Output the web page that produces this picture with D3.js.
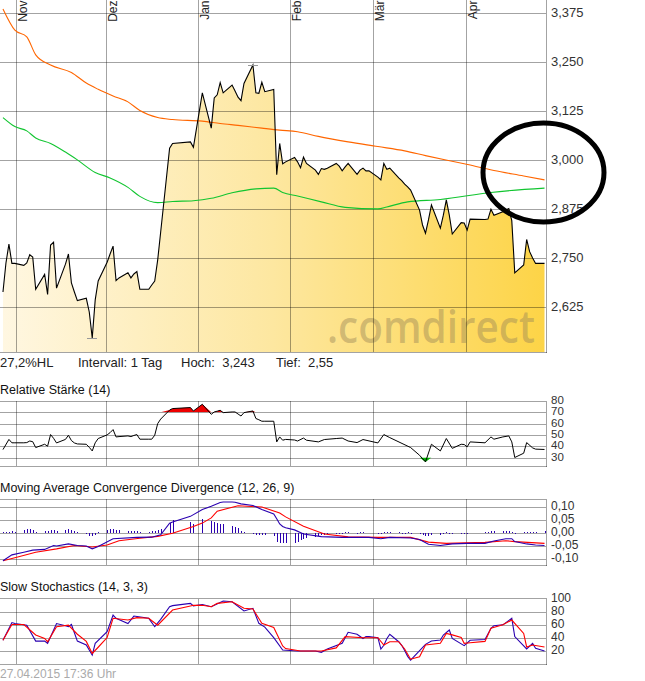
<!DOCTYPE html>
<html><head><meta charset="utf-8">
<script src="https://cdn.jsdelivr.net/npm/d3@7"></script>
<style>body{margin:0;background:#fff}svg{display:block}text{font-family:"Liberation Sans",Arial,sans-serif}</style>
</head><body>
<svg id="c" width="645" height="681"></svg>
<script>
// ---------- DATA ----------
const monthTicks = ["2014-11-01","2014-12-01","2015-01-01","2015-02-01","2015-03-01","2015-04-01"];
const monthLabels = ["Nov","Dez","Jan","Feb","Mär","Apr"];
const priceTicks = [3.375,3.25,3.125,3.0,2.875,2.75,2.625];
const rsiTicks = [80,70,60,50,40,30];
const macdTicks = [0.10,0.05,0,-0.05,-0.10];
const macdTickLabels = ["0,10","0,05","0,00","-0,05","-0,10"];
const stochTicks = [100,80,60,40,20];
const infoTexts = ["27,2%HL","Intervall: 1 Tag","Hoch:  3,243","Tief:  2,55"];
const panelTitles = ["Relative Stärke (14)","Moving Average Convergence Divergence (12, 26, 9)","Slow Stochastics (14, 3, 3)"];
const footerText = "27.04.2015 17:36 Uhr";

const tradeDates = ["2014-10-27","2014-10-28","2014-10-29","2014-10-30","2014-10-31",
"2014-11-03","2014-11-04","2014-11-05","2014-11-06","2014-11-07","2014-11-10","2014-11-11","2014-11-12","2014-11-13","2014-11-14",
"2014-11-17","2014-11-18","2014-11-19","2014-11-20","2014-11-21","2014-11-24","2014-11-25","2014-11-26","2014-11-27","2014-11-28",
"2014-12-01","2014-12-02","2014-12-03","2014-12-04","2014-12-05","2014-12-08","2014-12-09","2014-12-10","2014-12-11","2014-12-12",
"2014-12-15","2014-12-16","2014-12-17","2014-12-18","2014-12-19","2014-12-22","2014-12-23","2014-12-29","2014-12-30",
"2015-01-02","2015-01-05","2015-01-06","2015-01-07","2015-01-08","2015-01-09","2015-01-12","2015-01-13","2015-01-14","2015-01-15","2015-01-16",
"2015-01-19","2015-01-20","2015-01-21","2015-01-22","2015-01-23","2015-01-26","2015-01-27","2015-01-28","2015-01-29","2015-01-30",
"2015-02-02","2015-02-03","2015-02-04","2015-02-05","2015-02-06","2015-02-09","2015-02-10","2015-02-11","2015-02-12","2015-02-13",
"2015-02-16","2015-02-17","2015-02-18","2015-02-19","2015-02-20","2015-02-23","2015-02-24","2015-02-25","2015-02-26","2015-02-27",
"2015-03-02","2015-03-03","2015-03-04","2015-03-05","2015-03-06","2015-03-09","2015-03-10","2015-03-11","2015-03-12","2015-03-13",
"2015-03-16","2015-03-17","2015-03-18","2015-03-19","2015-03-20","2015-03-23","2015-03-24","2015-03-25","2015-03-26","2015-03-27",
"2015-03-30","2015-03-31","2015-04-01","2015-04-02","2015-04-07","2015-04-08","2015-04-09","2015-04-10",
"2015-04-13","2015-04-14","2015-04-15","2015-04-16","2015-04-17","2015-04-20","2015-04-21","2015-04-22","2015-04-23","2015-04-24","2015-04-27"];

const priceValues = [2.664,2.738,2.786,2.737,2.737,
2.732,2.738,2.759,2.753,2.671,2.709,2.658,2.784,2.791,2.674,
2.735,2.761,2.687,2.664,2.642,2.648,2.613,2.547,2.644,2.692,
2.740,2.761,2.781,2.693,2.700,2.713,2.700,2.710,2.716,2.671,
2.671,2.682,2.692,2.746,2.817,3.031,3.043,3.047,3.033,
3.172,3.082,3.159,3.167,3.198,3.172,3.192,3.177,3.161,3.152,3.196,
3.243,3.172,3.171,3.199,3.175,3.181,2.963,3.043,2.991,2.996,
3.007,2.996,2.981,3.008,2.992,2.975,2.964,2.979,2.977,2.980,
2.992,2.985,2.973,2.983,2.992,2.964,2.975,2.980,2.973,2.973,
2.957,2.950,2.992,2.977,2.980,2.955,2.948,2.939,2.932,2.924,
2.873,2.835,2.814,2.848,2.886,2.827,2.860,2.899,2.860,2.812,
2.841,2.840,2.822,2.850,2.849,2.850,2.875,2.860,
2.869,2.873,2.877,2.846,2.713,2.733,2.798,2.767,2.751,2.737,2.737];

const maLongDates = ["2014-10-27","2014-10-31","2014-11-04","2014-11-07","2014-11-12","2014-11-19","2014-11-24","2014-11-28","2014-12-03","2014-12-08","2014-12-12","2014-12-18","2014-12-23","2015-01-02","2015-01-08","2015-01-14","2015-01-22","2015-01-28","2015-02-03","2015-02-10","2015-02-20","2015-03-02","2015-03-11","2015-03-18","2015-03-31","2015-04-10","2015-04-20","2015-04-27"];
const maLongValues = [3.386,3.332,3.315,3.269,3.243,3.224,3.197,3.181,3.164,3.149,3.127,3.109,3.104,3.100,3.094,3.089,3.082,3.077,3.073,3.061,3.047,3.035,3.024,3.012,2.991,2.974,2.960,2.950];

const maShortDates = ["2014-10-27","2014-10-31","2014-11-04","2014-11-07","2014-11-12","2014-11-17","2014-11-21","2014-11-27","2014-12-02","2014-12-08","2014-12-12","2014-12-18","2014-12-23","2014-12-30","2015-01-05","2015-01-12","2015-01-20","2015-01-26","2015-01-29","2015-02-03","2015-02-11","2015-02-19","2015-03-02","2015-03-05","2015-03-12","2015-03-23","2015-04-09","2015-04-27"];
const maShortValues = [3.109,3.086,3.075,3.057,3.043,3.021,3.001,2.969,2.955,2.931,2.908,2.892,2.895,2.897,2.903,2.917,2.927,2.929,2.918,2.909,2.894,2.880,2.876,2.881,2.894,2.900,2.918,2.929];

const rsiDates = ["2014-10-27","2014-10-29","2014-10-30","2014-10-31","2014-11-03","2014-11-04","2014-11-05","2014-11-06","2014-11-07","2014-11-10","2014-11-11","2014-11-12","2014-11-13","2014-11-14","2014-11-17","2014-11-18","2014-11-19","2014-11-20","2014-11-21","2014-11-24","2014-11-25","2014-11-26","2014-11-27","2014-11-28",
"2014-12-01","2014-12-02","2014-12-03","2014-12-04","2014-12-05","2014-12-08","2014-12-09","2014-12-10","2014-12-11","2014-12-12","2014-12-15","2014-12-16","2014-12-17","2014-12-18","2014-12-19","2014-12-22","2014-12-23","2014-12-29","2014-12-30",
"2015-01-02","2015-01-05","2015-01-06","2015-01-07","2015-01-08","2015-01-09","2015-01-12","2015-01-13","2015-01-14","2015-01-15","2015-01-16","2015-01-19","2015-01-20","2015-01-21","2015-01-22","2015-01-23","2015-01-26","2015-01-27","2015-01-28","2015-01-29","2015-01-30",
"2015-02-02","2015-02-03","2015-02-05","2015-02-06","2015-02-10","2015-02-12","2015-02-16","2015-02-18","2015-02-20","2015-02-23","2015-02-25",
"2015-03-02","2015-03-04","2015-03-06","2015-03-13","2015-03-16","2015-03-18","2015-03-20","2015-03-23","2015-03-25","2015-03-27","2015-03-30","2015-03-31",
"2015-04-01","2015-04-02","2015-04-07","2015-04-09","2015-04-10","2015-04-13","2015-04-15","2015-04-16","2015-04-17","2015-04-20","2015-04-21","2015-04-23","2015-04-24","2015-04-27"];
const rsiValues = [37,46,43,43,43,43.2,44.6,44,38.8,41.7,40,50.3,47,42.9,46,49.7,45,42.9,42,41.7,39,35.8,43,46.8,
50,52,54.7,48.2,48.5,49.1,48.5,49.5,50.3,46.2,46.2,46.2,49.7,60,64,72,73.3,74.2,71.2,
77.1,68.2,70.3,71,71.8,69.7,70.3,70.3,68.5,66.7,69.7,71.2,64.5,63.4,62.1,62.1,62.1,43.8,48.2,45.3,46,
45.5,44.6,47.2,45.3,43.8,45.9,46.8,47.2,44.6,43.2,45.9,
42.9,50.3,47.6,38.8,32,26.1,41.7,35.8,46.8,38.1,41.7,41.5,
39.4,43.8,43,48.2,46.2,48.2,49.1,43.8,30,33.8,43.2,38.5,37.4,37.1];

const macdDates = ["2014-10-27","2014-10-30","2014-11-03","2014-11-06","2014-11-10","2014-11-13","2014-11-14","2014-11-18","2014-11-21","2014-11-24","2014-11-26","2014-11-28","2014-12-03","2014-12-11","2014-12-16","2014-12-19","2014-12-22","2014-12-23","2014-12-29",
"2015-01-02","2015-01-05","2015-01-08","2015-01-09","2015-01-12","2015-01-13","2015-01-15","2015-01-19","2015-01-22","2015-01-26","2015-01-27","2015-01-28","2015-01-29","2015-01-30",
"2015-02-02","2015-02-05","2015-02-11","2015-02-18","2015-02-27","2015-03-03","2015-03-06","2015-03-13","2015-03-16","2015-03-19","2015-03-23","2015-03-27",
"2015-04-01","2015-04-07","2015-04-10","2015-04-14","2015-04-16","2015-04-17","2015-04-21","2015-04-24","2015-04-27"];
const macdValues = [-0.107,-0.084,-0.074,-0.066,-0.063,-0.048,-0.050,-0.042,-0.048,-0.050,-0.061,-0.052,-0.022,-0.017,-0.016,-0.007,0.038,0.042,0.064,
0.090,0.103,0.117,0.119,0.119,0.118,0.112,0.106,0.090,0.073,0.055,0.035,0.025,0.020,
0.012,-0.004,-0.014,-0.017,-0.017,-0.022,-0.017,-0.019,-0.025,-0.043,-0.048,-0.042,
-0.040,-0.040,-0.031,-0.022,-0.022,-0.033,-0.042,-0.046,-0.048];

const signalDates = ["2014-10-27","2014-10-31","2014-11-07","2014-11-14","2014-11-20","2014-11-26","2014-12-01","2014-12-05","2014-12-12","2014-12-18","2014-12-23","2014-12-30",
"2015-01-02","2015-01-05","2015-01-07","2015-01-14","2015-01-22","2015-01-28","2015-01-30","2015-02-05","2015-02-12","2015-02-20",
"2015-03-02","2015-03-13","2015-03-19","2015-03-25","2015-04-07","2015-04-14","2015-04-17","2015-04-27"];
const signalValues = [-0.107,-0.095,-0.074,-0.061,-0.048,-0.054,-0.046,-0.030,-0.020,-0.013,-0.001,0.025,
0.038,0.058,0.084,0.105,0.100,0.077,0.062,0.026,-0.004,-0.015,
-0.017,-0.017,-0.035,-0.040,-0.036,-0.030,-0.033,-0.040];

const histValues = [0.003,0.004,0.005,0.006,0.005,
0.012,0.015,0.016,0.013,0.004,0.008,0.009,0.012,0.013,0.006,
0.012,0.014,0.012,0.008,0.004,-0.004,-0.010,-0.013,-0.008,0.002,
0.012,0.016,0.017,0.013,0.010,0.008,0.007,0.008,0.008,0.004,
0.005,0.006,0.007,0.010,0.014,0.040,0.049,0.043,0.035,
0.053,0.045,0.042,0.040,0.036,0.035,0.028,0.025,0.018,0.009,0.004,
-0.003,-0.006,-0.007,-0.008,-0.006,-0.010,-0.034,-0.037,-0.037,-0.040,
-0.037,-0.033,-0.028,-0.022,-0.020,-0.014,-0.012,-0.009,-0.007,-0.005,
-0.003,-0.002,-0.003,0.002,0.003,-0.002,0.002,0.003,0.001,-0.001,
-0.003,-0.004,0.003,0.002,0.003,0.002,-0.002,-0.002,0.002,-0.003,
-0.005,-0.008,-0.012,-0.012,-0.009,-0.008,-0.005,0.003,-0.004,-0.005,
-0.003,-0.002,-0.003,0.001,0.004,0.005,0.006,0.007,
0.008,0.007,0.006,0.004,-0.003,0.005,0.004,0.005,0.005,0.004,0.006];

const stochKDates = ["2014-10-27","2014-10-30","2014-10-31","2014-11-04","2014-11-07","2014-11-10","2014-11-11","2014-11-14","2014-11-17","2014-11-18","2014-11-19","2014-11-21","2014-11-24","2014-11-26","2014-11-27",
"2014-12-01","2014-12-03","2014-12-04","2014-12-08","2014-12-10","2014-12-15","2014-12-17","2014-12-19","2014-12-22","2014-12-23","2014-12-29","2014-12-30",
"2015-01-02","2015-01-05","2015-01-08","2015-01-09","2015-01-12","2015-01-16","2015-01-19","2015-01-21","2015-01-23","2015-01-26","2015-01-29",
"2015-02-03","2015-02-09","2015-02-11","2015-02-13","2015-02-18","2015-02-20","2015-02-23","2015-02-25","2015-02-26","2015-02-27",
"2015-03-02","2015-03-03","2015-03-04","2015-03-05","2015-03-06","2015-03-09","2015-03-10","2015-03-11","2015-03-12","2015-03-13","2015-03-18","2015-03-20","2015-03-23","2015-03-24","2015-03-26","2015-03-27","2015-03-31",
"2015-04-02","2015-04-07","2015-04-09","2015-04-10","2015-04-13","2015-04-16","2015-04-17","2015-04-21","2015-04-23","2015-04-24","2015-04-27"];
const stochKValues = [35.8,63,61.5,59,34.5,34.5,31,61.5,58,56.6,60,34.5,28.5,12.8,31,
49,74.6,69.5,61.5,73,69.5,56.6,67.9,87.4,89,92.5,88.7,
90.8,87.4,94,96.2,95,80.8,84.9,61.8,56,39.7,20.8,
19.2,19.2,17.2,22.3,31,48,45,38.5,41.4,41.4,
39.7,22.3,28,38,45,33.5,28,20,11,5,29.5,34.5,36,43.8,51.5,38.5,27.4,
35.8,37,54.2,58.2,59.5,69.5,41.4,22.3,31,23.5,19.2];

const stochDDates = ["2014-10-27","2014-10-30","2014-11-03","2014-11-07","2014-11-10","2014-11-11","2014-11-14","2014-11-18","2014-11-21","2014-11-24","2014-11-26","2014-11-28",
"2014-12-01","2014-12-03","2014-12-08","2014-12-11","2014-12-15","2014-12-18","2014-12-23","2014-12-29","2014-12-30",
"2015-01-02","2015-01-05","2015-01-07","2015-01-12","2015-01-16","2015-01-19","2015-01-22","2015-01-26","2015-01-29","2015-01-30",
"2015-02-04","2015-02-11","2015-02-16","2015-02-19","2015-02-25",
"2015-03-02","2015-03-04","2015-03-06","2015-03-09","2015-03-11","2015-03-13","2015-03-16","2015-03-18","2015-03-23","2015-03-25","2015-03-27","2015-03-30","2015-03-31",
"2015-04-02","2015-04-07","2015-04-09","2015-04-13","2015-04-16","2015-04-20","2015-04-21","2015-04-23","2015-04-27"];
const stochDValues = [35.8,60,60,43.8,38.5,33.5,56.6,59,45,34,15.4,25,
40,69.5,66.9,70.5,69.5,59,82.3,88.5,89.5,
89.5,87.4,92.5,95,84.9,83.8,61.8,55.4,27,23,
19.2,19.2,24,41.4,39.7,
39.7,28.5,33.5,33.5,22.3,6.6,10.3,28.5,31,46.3,44,40,31,
32,34,54.2,59.5,66.9,46.3,25.5,28.5,25.5];

// ---------- SETUP ----------
const parse = d3.timeParse("%Y-%m-%d");
const noon = s => d3.timeHour.offset(parse(s), 12);
const zip = (ds, vs) => ds.map((d, i) => ({d: noon(d), v: vs[i]}));
const svg = d3.select("#c");
const W = 546;
const x = d3.scaleTime().domain([new Date(2014,9,26,12), new Date(2015,3,28)]).range([0, W]);
const gridCol = "rgba(0,0,0,0.36)";
const labelX = 551;

const defs = svg.append("defs");
const grad = defs.append("linearGradient").attr("id","fillGrad").attr("gradientUnits","userSpaceOnUse")
  .attr("x1",0).attr("x2",W).attr("y1",0).attr("y2",0);
grad.append("stop").attr("offset","0%").attr("stop-color","#fff7e2");
grad.append("stop").attr("offset","50%").attr("stop-color","#fde7a0");
grad.append("stop").attr("offset","100%").attr("stop-color","#fdd446");

function grid(g, top, bottom, yVals, yScale) {
  g.selectAll(null).data(yVals).join("line")
    .attr("x1",0).attr("x2",W).attr("y1",d=>Math.round(yScale(d))+0.5).attr("y2",d=>Math.round(yScale(d))+0.5)
    .attr("stroke",gridCol).attr("shape-rendering","crispEdges");
  g.selectAll(null).data(monthTicks).join("line")
    .attr("x1",d=>Math.round(x(parse(d)))+0.5).attr("x2",d=>Math.round(x(parse(d)))+0.5)
    .attr("y1",top).attr("y2",bottom)
    .attr("stroke",gridCol).attr("shape-rendering","crispEdges");
}
function frame(g, top, bottom, drawTop) {
  if (drawTop) g.append("line").attr("x1",0).attr("x2",W).attr("y1",top+0.5).attr("y2",top+0.5).attr("stroke",gridCol).attr("shape-rendering","crispEdges");
  g.append("line").attr("x1",0).attr("x2",W+0.5).attr("y1",bottom+0.5).attr("y2",bottom+0.5).attr("stroke",gridCol).attr("shape-rendering","crispEdges");
  g.append("line").attr("x1",W+0.5).attr("x2",W+0.5).attr("y1",top).attr("y2",bottom+1).attr("stroke",gridCol).attr("shape-rendering","crispEdges");
}
function rightLabels(g, vals, yScale, fmt, fs) {
  g.selectAll(null).data(vals).join("text")
    .attr("x",labelX).attr("y",d=>yScale(d)-1).attr("dy","0.35em")
    .attr("font-size",fs||13).attr("fill","#333").text((d,i)=>fmt(d,i));
}

// ---------- MAIN PRICE CHART ----------
const mainTop = 0, mainBottom = 352;
const yP = d3.scaleLinear().domain([2.625, 3.375]).range([307.3, 13.3]);
const price = zip(tradeDates, priceValues);
const gm = svg.append("g");
gm.append("path").datum(price)
  .attr("d", d3.area().x(d=>x(d.d)).y0(mainBottom).y1(d=>yP(d.v)))
  .attr("fill","url(#fillGrad)");
// watermark, horizontally scaled to the logo's width
const wm = gm.append("text").attr("x",0).attr("y",0).attr("font-size",46).attr("font-weight",600)
  .style("font-family","'Open Sans', Lato, sans-serif")
  .attr("fill","#9a8658").attr("fill-opacity",0.45).text(".comdirect");
const wmW = wm.node().getComputedTextLength() || 209;
wm.attr("transform",`translate(327,343) scale(${208/wmW},1)`);
grid(gm, mainTop, mainBottom, priceTicks, yP);
frame(gm, mainTop, mainBottom, false);
gm.append("path").datum(zip(maLongDates, maLongValues))
  .attr("d", d3.line().x(d=>x(d.d)).y(d=>yP(d.v)).curve(d3.curveMonotoneX))
  .attr("fill","none").attr("stroke","#ff6600").attr("stroke-width",1.1);
gm.append("path").datum(zip(maShortDates, maShortValues))
  .attr("d", d3.line().x(d=>x(d.d)).y(d=>yP(d.v)).curve(d3.curveMonotoneX))
  .attr("fill","none").attr("stroke","#11c530").attr("stroke-width",1.1);
gm.append("path").datum(price)
  .attr("d", d3.line().x(d=>x(d.d)).y(d=>yP(d.v)))
  .attr("fill","none").attr("stroke","#000").attr("stroke-width",1.1);
// high / low markers
const hi = price.reduce((a,b)=>b.v>a.v?b:a), lo = price.reduce((a,b)=>b.v<a.v?b:a);
[hi, lo].forEach(p => {
  gm.append("line").attr("x1",x(p.d)-5).attr("x2",x(p.d)+5)
    .attr("y1",Math.round(yP(p.v))+0.5).attr("y2",Math.round(yP(p.v))+0.5)
    .attr("stroke","#999").attr("shape-rendering","crispEdges");
});
rightLabels(gm, priceTicks, yP, d=>d3.format(".3f")(d).replace(".",","));
gm.selectAll(null).data(monthTicks).join("text")
  .attr("transform",d=>`translate(${Math.round(x(parse(d)))+11},0.5) rotate(-90)`)
  .attr("text-anchor","end").attr("font-size",12).attr("fill","#222")
  .text((d,i)=>monthLabels[i]);

// info line
const infoX = [0, 78, 181, 276];
svg.selectAll(null).data(infoTexts).join("text")
  .attr("x",(d,i)=>infoX[i]).attr("y",367).attr("font-size",13).attr("fill","#222")
  .style("white-space","pre").text(d=>d);

// ---------- RSI ----------
const rsiTop = 401, rsiBottom = 466;
const yR = d3.scaleLinear().domain([30,80]).range([457.5, 401]);
const gr = svg.append("g");
svg.append("text").attr("x",0).attr("y",394).attr("font-size",12.5).attr("fill","#111").text(panelTitles[0]);
grid(gr, rsiTop, rsiBottom, rsiTicks.slice(1), yR);
frame(gr, rsiTop, rsiBottom, true);
const rsi = zip(rsiDates, rsiValues);
defs.append("clipPath").attr("id","above70").append("rect").attr("x",0).attr("y",rsiTop).attr("width",W).attr("height",yR(70)-rsiTop);
defs.append("clipPath").attr("id","below30").append("rect").attr("x",0).attr("y",yR(30)).attr("width",W).attr("height",rsiBottom-yR(30));
gr.append("path").datum(rsi).attr("clip-path","url(#above70)")
  .attr("d", d3.area().x(d=>x(d.d)).y0(yR(70)).y1(d=>yR(Math.max(d.v,70)))).attr("fill","#ee0000");
gr.append("path").datum(rsi).attr("clip-path","url(#below30)")
  .attr("d", d3.area().x(d=>x(d.d)).y0(yR(30)).y1(d=>yR(Math.min(d.v,30)))).attr("fill","#00b400");
gr.append("path").datum(rsi).attr("d", d3.line().x(d=>x(d.d)).y(d=>yR(d.v)))
  .attr("fill","none").attr("stroke","#000").attr("stroke-width",1);
rightLabels(gr, rsiTicks, yR, d=>d, 11.5);

// ---------- MACD ----------
const macdTop = 499, macdBottom = 565;
const yM = d3.scaleLinear().domain([-0.10, 0.10]).range([559, 507]);
const gmc = svg.append("g");
svg.append("text").attr("x",0).attr("y",492).attr("font-size",12.5).attr("fill","#111").text(panelTitles[1]);
grid(gmc, macdTop, macdBottom, macdTicks, yM);
frame(gmc, macdTop, macdBottom, true);
const hist = zip(tradeDates, histValues);
gmc.selectAll(null).data(hist).join("line")
  .attr("x1",d=>Math.round(x(d.d))+0.5).attr("x2",d=>Math.round(x(d.d))+0.5)
  .attr("y1",yM(0)).attr("y2",d=>yM(d.v))
  .attr("stroke","#2a00b0").attr("shape-rendering","crispEdges");
gmc.append("path").datum(zip(signalDates, signalValues))
  .attr("d", d3.line().x(d=>x(d.d)).y(d=>yM(d.v))).attr("fill","none").attr("stroke","#ff0000").attr("stroke-width",1.1);
gmc.append("path").datum(zip(macdDates, macdValues))
  .attr("d", d3.line().x(d=>x(d.d)).y(d=>yM(d.v))).attr("fill","none").attr("stroke","#2a00b0").attr("stroke-width",1.1);
rightLabels(gmc, macdTicks, yM, (d,i)=>macdTickLabels[i], 12);

// ---------- STOCHASTICS ----------
const stTop = 598.5, stBottom = 664;
const yS = d3.scaleLinear().domain([0,100]).range([663.5, 598.5]);
const gs = svg.append("g");
svg.append("text").attr("x",0).attr("y",591).attr("font-size",12.5).attr("fill","#111").text(panelTitles[2]);
grid(gs, stTop, stBottom, stochTicks.slice(1), yS);
frame(gs, Math.floor(stTop), stBottom, true);
gs.append("path").datum(zip(stochKDates, stochKValues))
  .attr("d", d3.line().x(d=>x(d.d)).y(d=>yS(d.v))).attr("fill","none").attr("stroke","#2a00b0").attr("stroke-width",1.1);
gs.append("path").datum(zip(stochDDates, stochDValues))
  .attr("d", d3.line().x(d=>x(d.d)).y(d=>yS(d.v))).attr("fill","none").attr("stroke","#ff0000").attr("stroke-width",1.1);
rightLabels(gs, stochTicks, yS, d=>d, 12);

// footer
svg.append("text").attr("x",0).attr("y",678).attr("font-size",12).attr("fill","#aaa").text(footerText);

// annotation ellipse
svg.append("ellipse").attr("cx",543.5).attr("cy",172.5).attr("rx",60.5).attr("ry",49.5)
  .attr("fill","none").attr("stroke","#000").attr("stroke-width",5);
</script>
</body></html>
